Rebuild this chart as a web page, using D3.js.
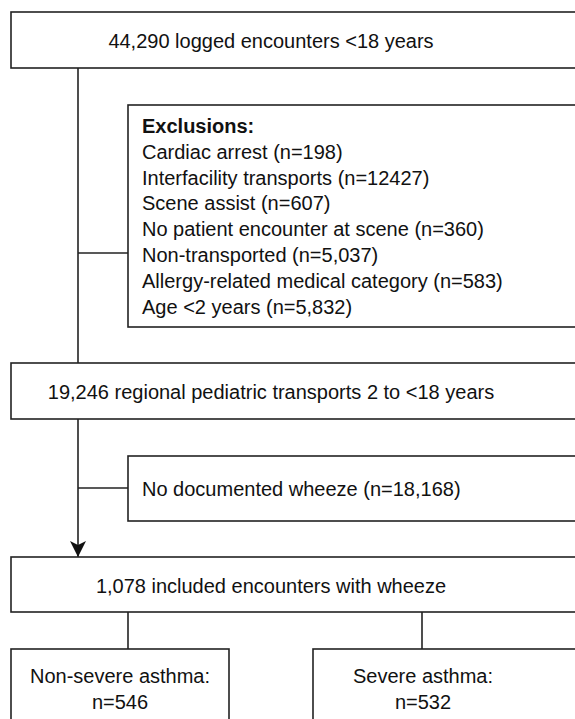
<!DOCTYPE html>
<html lang="en">
<head>
	<meta charset="utf-8">
	<title>Flow of encounters</title>
	<script src="https://d3js.org/d3.v7.min.js"></script>
	<style type="text/css">
		body { margin: 0; background: #fff; }
		svg text {
			font-family: "Liberation Sans", Arial, Helvetica, sans-serif;
			font-size: 20px;
			fill: #111;
		}
		.box { fill: #fff; stroke: #222; stroke-width: 1.6; }
		.link { fill: none; stroke: #222; stroke-width: 1.6; }
	</style>
</head>
<body>
<script type="text/javascript">

	// Texts of the flow diagram
	var topLabel = "44,290 logged encounters <18 years";
	var exclusionTitle = "Exclusions:";
	var exclusionLines = [
		"Cardiac arrest (n=198)",
		"Interfacility transports (n=12427)",
		"Scene assist (n=607)",
		"No patient encounter at scene (n=360)",
		"Non-transported (n=5,037)",
		"Allergy-related medical category (n=583)",
		"Age <2 years (n=5,832)"
	];
	var regionalLabel = "19,246 regional pediatric transports 2 to <18 years";
	var wheezeExclusion = "No documented wheeze (n=18,168)";
	var includedLabel = "1,078 included encounters with wheeze";
	var groupLines = [
		["Non-severe asthma:", "n=546"],
		["Severe asthma:", "n=532"]
	];

	var width = 575, height = 719;

	var svg = d3.select("body")
		.append("svg")
		.attr("width", width)
		.attr("height", height);

	// arrow marker
	svg.append("defs").append("marker")
		.attr("id", "arrow")
		.attr("viewBox", "0 0 16 16")
		.attr("refX", 16)
		.attr("refY", 8)
		.attr("markerWidth", 16)
		.attr("markerHeight", 16)
		.attr("markerUnits", "userSpaceOnUse")
		.attr("orient", "auto")
		.append("path")
		.attr("d", "M0,0 L16,8 L0,16 L4,8 Z")
		.attr("fill", "#111");

	var spineX = 78;
	var mainLeft = 11, mainRight = 600, textMid = 271;
	var sideLeft = 128;

	// box layout
	var boxes = [
		{x: mainLeft, y: 12, w: mainRight - mainLeft, h: 56},
		{x: sideLeft, y: 105, w: mainRight - sideLeft, h: 222},
		{x: mainLeft, y: 363, w: mainRight - mainLeft, h: 56},
		{x: sideLeft, y: 456, w: mainRight - sideLeft, h: 65},
		{x: mainLeft, y: 557, w: mainRight - mainLeft, h: 55},
		{x: mainLeft, y: 649, w: 218, h: 100},
		{x: 313, y: 649, w: 300, h: 100}
	];

	// connectors
	var line = d3.line();
	var links = [
		[[spineX, 68], [spineX, 363]],
		[[spineX, 253], [sideLeft, 253]],
		[[spineX, 419], [spineX, 557]],
		[[spineX, 488], [sideLeft, 488]],
		[[128, 612], [128, 649]],
		[[422, 612], [422, 649]]
	];

	svg.selectAll("path.link")
		.data(links)
		.enter()
		.append("path")
		.attr("class", "link")
		.attr("d", function(d) { return line(d); })
		.attr("marker-end", function(d, i) { return i === 2 ? "url(#arrow)" : null; });

	svg.selectAll("rect.box")
		.data(boxes)
		.enter()
		.append("rect")
		.attr("class", "box")
		.attr("x", function(d) { return d.x; })
		.attr("y", function(d) { return d.y; })
		.attr("width", function(d) { return d.w; })
		.attr("height", function(d) { return d.h; });

	// centered single-line labels
	var centered = [
		{t: topLabel, x: textMid, y: 48},
		{t: regionalLabel, x: textMid, y: 399},
		{t: includedLabel, x: textMid, y: 593}
	];
	svg.selectAll("text.center")
		.data(centered)
		.enter()
		.append("text")
		.attr("class", "center")
		.attr("x", function(d) { return d.x; })
		.attr("y", function(d) { return d.y; })
		.attr("text-anchor", "middle")
		.text(function(d) { return d.t; });

	// exclusions list
	var lineH = 25.8;
	svg.append("text")
		.attr("x", 142)
		.attr("y", 133)
		.style("font-weight", "bold")
		.text(exclusionTitle);

	svg.selectAll("text.excl")
		.data(exclusionLines)
		.enter()
		.append("text")
		.attr("class", "excl")
		.attr("x", 142)
		.attr("y", function(d, i) { return 133 + (i + 1) * lineH; })
		.text(function(d) { return d; });

	svg.append("text")
		.attr("x", 142)
		.attr("y", 496)
		.text(wheezeExclusion);

	// the two groups
	var groupMid = [120, 423];
	groupLines.forEach(function(g, i) {
		svg.selectAll(null)
			.data(g)
			.enter()
			.append("text")
			.attr("x", groupMid[i])
			.attr("y", function(d, j) { return 683 + j * 25.5; })
			.attr("text-anchor", "middle")
			.text(function(d) { return d; });
	});

</script>
</body>
</html>
